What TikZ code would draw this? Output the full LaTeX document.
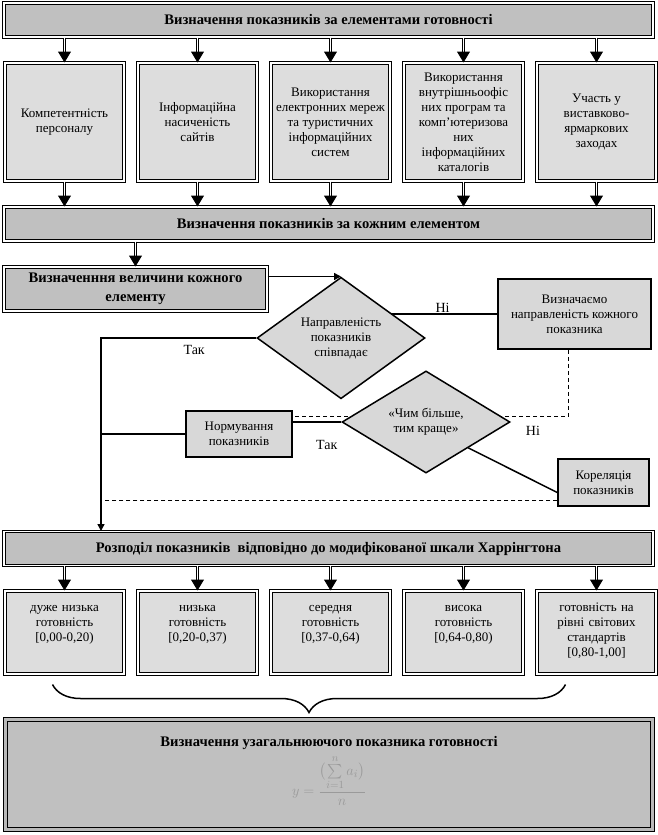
\documentclass[tikz,border=0pt]{standalone}
\usepackage{amsmath}
\usepackage{fontspec}
\setmainfont{Liberation Serif}
\usetikzlibrary{arrows.meta, backgrounds, decorations.pathreplacing, positioning, shapes.geometric}
\definecolor{barfill}{HTML}{C0C0C0}
\definecolor{elemfill}{HTML}{DDDDDD}
\definecolor{decfill}{HTML}{D8D8D8}
\definecolor{formulagray}{HTML}{9A9A9A}
\newcommand{\txt}{\fontsize{13}{15}\selectfont}
\newcommand{\txtb}{\bfseries\fontsize{14.6}{19}\selectfont}
\tikzstyle{barbox}=[draw, double, line width=1pt, double distance=1.4pt, fill=barfill, font=\txtb, minimum width=649pt, minimum height=34pt, inner sep=0pt, align=center]
\tikzstyle{elem}=[draw, double, line width=1pt, double distance=1.4pt, fill=elemfill, font=\txt, align=center, minimum width=119pt, minimum height=118pt, inner sep=0pt]
\tikzstyle{grade}=[elem, text width=112pt, minimum height=83pt, inner xsep=3.5pt, inner ysep=3pt, text height=17.5pt, text depth=59.5pt]
\tikzstyle{dec}=[diamond, draw, line width=1.5pt, fill=decfill, font=\txt, align=center, inner sep=0pt]
\tikzstyle{act}=[draw, line width=1.5pt, fill=decfill, font=\txt, align=center, inner sep=0pt]
\tikzstyle{lbl}=[font=\fontsize{14}{16}\selectfont, inner sep=1pt]
\tikzstyle{conn}=[line width=1.5pt]
\tikzstyle{dashline}=[line width=0.8pt, dash pattern=on 4pt off 3pt]
\tikzstyle{dblarrow}=[double, line width=1pt, double distance=1.6pt, -{Triangle[length=11pt, width=13pt]}]
\tikzstyle{sarrow}=[conn, -{Triangle[length=7pt, width=7pt]}]

\begin{document}
\begin{tikzpicture}[x=1pt, y=-1pt]
  \useasboundingbox (0,0) rectangle (657,835);
  % elements of readiness
  \node[barbox] (top) at (328.5,20) {Визначення показників за елементами готовності};
  \node[elem] (e1) at (64.5,122) {Компетентність\\персоналу};
  \node[elem] (e2) [right=13pt of e1] {Інформаційна\\насиченість\\сайтів};
  \node[elem] (e3) [right=13pt of e2] {Використання\\електронних мереж\\та туристичних\\інформаційних\\систем};
  \node[elem] (e4) [right=13pt of e3] {Використання\\внутрішньоофіс\\них програм та\\комп’ютеризова\\них\\інформаційних\\каталогів};
  \node[elem] (e5) [right=13pt of e4] {Участь у\\виставково-\\ярмаркових\\заходах};
  \node[barbox] (each) at (328.5,224) {Визначення показників за кожним елементом};
  \path (e1.north |- top.south) edge[dblarrow] (e1.north)
        (e2.north |- top.south) edge[dblarrow] (e2.north)
        (e3.north |- top.south) edge[dblarrow] (e3.north)
        (e4.north |- top.south) edge[dblarrow] (e4.north)
        (e5.north |- top.south) edge[dblarrow] (e5.north);
  \path (e1.south) edge[dblarrow] (e1.south |- each.north)
        (e2.south) edge[dblarrow] (e2.south |- each.north)
        (e3.south) edge[dblarrow] (e3.south |- each.north)
        (e4.south) edge[dblarrow] (e4.south |- each.north)
        (e5.south) edge[dblarrow] (e5.south |- each.north);

  % value of each element and its checks
  \node[barbox, minimum width=263pt, minimum height=44pt] (val) at (135.5,289) {Визначенння величини кожного\\елементу};
  \path (each.south -| val.north) edge[dblarrow] (val.north);
  \node[dec, minimum width=168pt, minimum height=119pt] (d1) at (341,338) {Направленість\\показників\\співпадає};
  \node[act, minimum width=153pt, minimum height=70pt] (dir) at (574.5,314) {Визначаємо\\направленість кожного\\показника};
  \node[dec, minimum width=168pt, minimum height=95pt] (d2) at (426,422) {«Чим більше,\\тим краще»};
  \node[act, minimum width=106pt, minimum height=46pt] (norm) at (239,434) {Нормування\\показників};
  \node[act, minimum width=91pt, minimum height=47pt] (kor) at (603.5,482.5) {Кореляція\\показників};
  \node[lbl, below right=3pt and 14pt of d2.east] (no2) {Ні};
  \coordinate (spine) at (101,338);
  \coordinate (dl) at (105,500);
  \begin{scope}[on background layer]
    \draw[conn] (dir.west) -- node[lbl, above, pos=0.35] {Ні} (dir.west -| d1.center);
    \draw[dashline] ([xshift=-6pt]dir.south) |- ([yshift=-6pt]norm.north east);
    \draw[dashline] (kor.west |- dl) -- (dl);
  \end{scope}
  \draw[sarrow] (val.east |- d1.north) -- (d1.north);
  \draw[conn] (d2.west) -- node[lbl, below=17pt, pos=0.3] {Так} (d2.west -| norm.east);
  \draw[conn] (norm.west) -- (norm.west -| spine);
  \draw[conn] (d2.south east) -- ([yshift=-10pt]kor.west);

  % Harrington scale
  \node[barbox] (scale) at (328.5,548.5) {Розподіл показників~ відповідно до модифікованої шкали Харрінгтона};
  \draw[sarrow] (d1.west) -- node[lbl, below=6pt, pos=0.4] {Так} (d1.west -| spine) -- (spine |- scale.north);
  \node[grade] (g1) at (64.5,632.5) {дуже низька\\готовність\\{[0,00-0,20)}};
  \node[grade] (g2) [right=13pt of g1] {низька\\готовність\\{[0,20-0,37)}};
  \node[grade] (g3) [right=13pt of g2] {середня\\готовність\\{[0,37-0,64)}};
  \node[grade] (g4) [right=13pt of g3] {висока\\готовність\\{[0,64-0,80)}};
  \node[grade] (g5) [right=13pt of g4] {готовність на\\рівні світових\\стандартів\\{[0,80-1,00]}};
  \path (g1.north |- scale.south) edge[dblarrow] (g1.north)
        (g2.north |- scale.south) edge[dblarrow] (g2.north)
        (g3.north |- scale.south) edge[dblarrow] (g3.north)
        (g4.north |- scale.south) edge[dblarrow] (g4.north)
        (g5.north |- scale.south) edge[dblarrow] (g5.north);
  \draw[conn, decorate, decoration={brace, amplitude=28pt}] ([xshift=29pt, yshift=-10pt]g5.south west) -- ([xshift=-12pt, yshift=-10pt]g1.south);

  % summary indicator
  \node[barbox, double distance=2.4pt, line width=1.6pt, double=gray!55, minimum width=647pt, minimum height=110pt] (sum) at (329,774.5) {};
  \node[font=\txtb, inner sep=0pt] (sumtitle) [below=17pt of sum.north] {Визначення узагальнюючого показника готовності};
  \node[font=\fontsize{15.5}{18}\selectfont, text=formulagray, inner sep=0pt] (formula) [below=6pt of sumtitle]
    {$y=\dfrac{\bigl(\sum\limits_{i=1}^{n}a_i\bigr)}{n}$};
\end{tikzpicture}
\end{document}
